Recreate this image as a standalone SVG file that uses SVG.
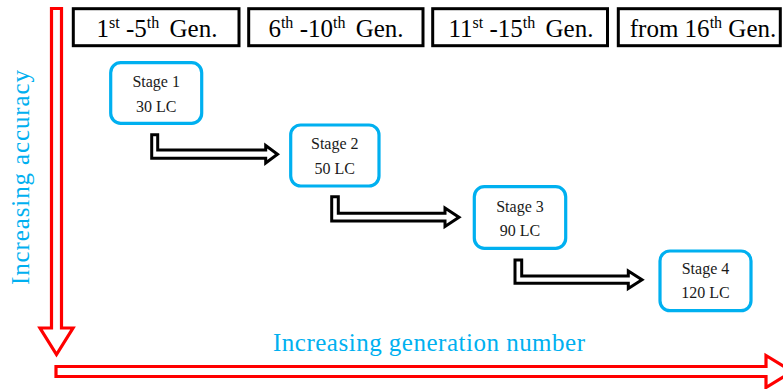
<svg xmlns="http://www.w3.org/2000/svg" width="783" height="389" viewBox="0 0 783 389">
<style>
.hdr{fill:#fff;stroke:#000;stroke-width:3}
.ht{font-family:"Liberation Serif",serif;font-size:25px;fill:#000;text-anchor:middle}
.sup{font-size:16px}
.stage{fill:#fff;stroke:#00B0F0;stroke-width:3.2}
.st{font-family:"Liberation Serif",serif;font-size:16px;fill:#1a1a1a;text-anchor:middle}
.blue{font-family:"Liberation Serif",serif;font-size:25px;fill:#00B0F0;text-anchor:middle}
.red{fill:#fff;stroke:#FF0000;stroke-width:3.2;stroke-linejoin:miter}
.bent{fill:#fff;stroke:#000;stroke-width:3;stroke-linejoin:miter}
</style>
<rect width="783" height="389" fill="#fff"/>
<g id="axes">
<path class="red" d="M51.5,8.5 H61.5 V328 H73 L56.5,354.5 L40,328 H51.5 Z"/>
<path class="red" d="M56,366.5 H766 V355.5 L792,371.5 L766,387.5 V376.5 H56 Z"/>
<text class="blue" transform="translate(29.3,177.5) rotate(-90)" textLength="215">Increasing accuracy</text>
<text class="blue" x="429" y="351" textLength="312">Increasing generation number</text>
</g>
<g id="header1">
<rect class="hdr" x="73.3" y="8.7" width="165.7" height="37"/>
<text class="ht" x="157" y="37">1<tspan class="sup" dy="-9">st</tspan><tspan dy="9"> -5</tspan><tspan class="sup" dy="-9">th</tspan><tspan dy="9" dx="4"> Gen.</tspan></text>
</g>
<g id="header2">
<rect class="hdr" x="248.7" y="8.7" width="174.3" height="37"/>
<text class="ht" x="336" y="37">6<tspan class="sup" dy="-9">th</tspan><tspan dy="9"> -10</tspan><tspan class="sup" dy="-9">th</tspan><tspan dy="9" dx="4"> Gen.</tspan></text>
</g>
<g id="header3">
<rect class="hdr" x="432.7" y="8.7" width="174.8" height="37"/>
<text class="ht" x="521" y="37">11<tspan class="sup" dy="-9">st</tspan><tspan dy="9"> -15</tspan><tspan class="sup" dy="-9">th</tspan><tspan dy="9" dx="4"> Gen.</tspan></text>
</g>
<g id="header4">
<rect class="hdr" x="618.3" y="8.7" width="162" height="37"/>
<text class="ht" x="703" y="37">from 16<tspan class="sup" dy="-9">th</tspan><tspan dy="9"> Gen.</tspan></text>
</g>
<g id="connectors">
<path class="bent" d="M151.7,134.7 H157.7 V150 H265.7 V145.5 L277.5,154.2 L265.7,163 V158.3 H151.7 Z"/>
<path class="bent" d="M331.7,196.7 H338.3 V213.3 H445 V208 L459,217.2 L445,226.5 V221 H331.7 Z"/>
<path class="bent" d="M515,260 H521.7 V276 H628.3 V271 L642,279.7 L628.3,288.5 V283.3 H515 Z"/>
</g>
<g id="stage1">
<rect class="stage" x="110.7" y="62.7" width="91" height="60.6" rx="10"/>
<text class="st" x="156.2" y="87">Stage 1</text>
<text class="st" x="156.2" y="112">30 LC</text>
</g>
<g id="stage2">
<rect class="stage" x="290.7" y="125" width="88.3" height="61" rx="10"/>
<text class="st" x="334.8" y="149.3">Stage 2</text>
<text class="st" x="334.8" y="173.5">50 LC</text>
</g>
<g id="stage3">
<rect class="stage" x="474.3" y="186.7" width="91.4" height="61.6" rx="10"/>
<text class="st" x="520" y="211.5">Stage 3</text>
<text class="st" x="520" y="235.5">90 LC</text>
</g>
<g id="stage4">
<rect class="stage" x="660" y="251" width="91" height="59.7" rx="10"/>
<text class="st" x="705.5" y="274">Stage 4</text>
<text class="st" x="705.5" y="298">120 LC</text>
</g>
</svg>
